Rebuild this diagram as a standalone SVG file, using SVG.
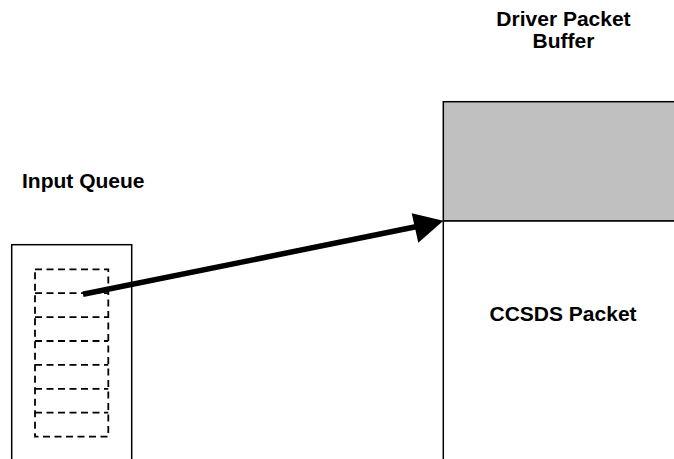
<svg xmlns="http://www.w3.org/2000/svg" width="674" height="459" viewBox="0 0 674 459">
<style>
text{font-family:"Liberation Sans",Arial,sans-serif;font-weight:bold;font-size:21px;fill:#000}
.box{fill:#fff;stroke:#000;stroke-width:1.5}
.dash{fill:none;stroke:#000;stroke-width:1.8;stroke-dasharray:7,4.5}
</style>
<rect width="674" height="459" fill="#fff"/>
<g id="input-queue">
<rect class="box" x="11.7" y="244.7" width="120" height="220"/>
<rect class="dash" x="35" y="269.3" width="73.3" height="167.4"/>
<path class="dash" d="M35 293.2H108.3M35 317.1H108.3M35 341H108.3M35 364.9H108.3M35 388.8H108.3M35 412.7H108.3"/>
<text x="22" y="188">Input Queue</text>
</g>
<g id="driver-buffer">
<rect x="443.3" y="101.7" width="240" height="119.3" fill="#c0c0c0" stroke="#000" stroke-width="1.5"/>
<rect class="box" x="443.3" y="221" width="240" height="250"/>
<text x="563.5" y="26" text-anchor="middle">Driver Packet</text>
<text x="563.5" y="47.5" text-anchor="middle">Buffer</text>
<text x="489.5" y="320.5">CCSDS Packet</text>
</g>
<g id="connectors">
<line x1="83" y1="294.3" x2="417" y2="226.5" stroke="#000" stroke-width="5.5"/>
<polygon points="443.3,220.7 411.7,213.3 418.3,242.7"/>
</g>
</svg>
